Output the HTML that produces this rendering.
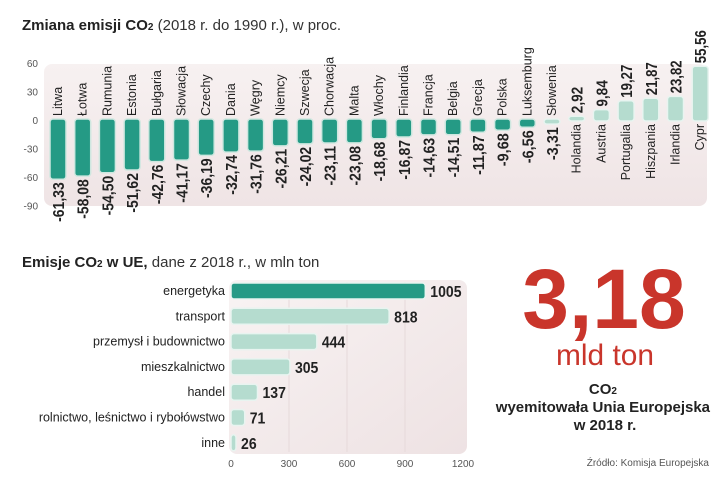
<!DOCTYPE html>
<html><head><meta charset="utf-8"><style>
body{margin:0;background:#fff;width:720px;height:481px;overflow:hidden;font-family:"Liberation Sans",sans-serif}
svg text{font-family:"Liberation Sans",sans-serif}
</style></head><body>
<svg id="chart" width="720" height="481" xmlns="http://www.w3.org/2000/svg">
<defs>
<linearGradient id="bg1" x1="0" y1="0" x2="0" y2="1"><stop offset="0" stop-color="#f7f1f1"/><stop offset="1" stop-color="#efe4e5"/></linearGradient>
<linearGradient id="bg2" x1="0" y1="0" x2="1" y2="1"><stop offset="0" stop-color="#f8f3f3"/><stop offset="1" stop-color="#eee2e3"/></linearGradient>
</defs>
<text x="22" y="30" font-size="15" fill="#222"><tspan font-weight="bold">Zmiana emisji CO</tspan><tspan font-weight="bold" font-size="10">2</tspan><tspan fill="#333"> (2018 r. do 1990 r.), w proc.</tspan></text>
<rect x="44" y="64" width="663" height="142" rx="8" fill="url(#bg1)"/>
<g id="topg"></g>
<text x="22" y="267" font-size="15" fill="#222"><tspan font-weight="bold">Emisje CO</tspan><tspan font-weight="bold" font-size="10">2</tspan><tspan font-weight="bold"> w UE,</tspan><tspan fill="#333"> dane z 2018 r., w mln ton</tspan></text>
<rect x="229" y="280" width="238" height="174" rx="8" fill="url(#bg2)"/>
<g id="botg"></g>
<text x="604" y="328" text-anchor="middle" font-size="84" font-weight="bold" fill="#c9352b">3,18</text>
<text x="605" y="365" text-anchor="middle" font-size="30" fill="#c9352b" textLength="98" lengthAdjust="spacingAndGlyphs">mld ton</text>
<text text-anchor="middle" font-size="15" font-weight="bold" fill="#222">
<tspan x="605" y="394">CO<tspan font-size="10">2</tspan></tspan>
<tspan x="605" y="412">wyemitowała Unia Europejska</tspan>
<tspan x="605" y="430">w 2018 r.</tspan></text>
<text x="709" y="466" text-anchor="end" font-size="10" fill="#555">Źródło: Komisja Europejska</text>
</svg>
<script>
const countries=["Litwa","Łotwa","Rumunia","Estonia","Bułgaria","Słowacja","Czechy","Dania","Węgry","Niemcy","Szwecja","Chorwacja","Malta","Włochy","Finlandia","Francja","Belgia","Grecja","Polska","Luksemburg","Słowenia","Holandia","Austria","Portugalia","Hiszpania","Irlandia","Cypr"];
const changes=[-61.33,-58.08,-54.50,-51.62,-42.76,-41.17,-36.19,-32.74,-31.76,-26.21,-24.02,-23.11,-23.08,-18.68,-16.87,-14.63,-14.51,-11.87,-9.68,-6.56,-3.31,2.92,9.84,19.27,21.87,23.82,55.56];
const yTicks=[60,30,0,-30,-60,-90];
const sectors=["energetyka","transport","przemysł i budownictwo","mieszkalnictwo","handel","rolnictwo, leśnictwo i rybołówstwo","inne"];
const sectorValues=[1005,818,444,305,137,71,26];
const xTicks=[0,300,600,900,1200];
const NS="http://www.w3.org/2000/svg";
function mk(t,a,p,txt){const e=document.createElementNS(NS,t);for(const k in a)e.setAttribute(k,a[k]);if(txt!==undefined)e.textContent=txt;p.appendChild(e);return e;}
const fmt=v=>v.toFixed(2).replace('.',',');
const topG=document.getElementById('topg');
const yS=v=>120-v*0.95;
const xS=i=>58+i*24.7;
yTicks.forEach(t=>{const e=mk('text',{x:38,y:yS(t)+4,'text-anchor':'end','font-size':10,fill:'#555'},topG,t);

});
countries.forEach((c,i)=>{const v=changes[i];const cx=xS(i);const y0=yS(0),y1=yS(v);
const dark=v<-5;
const r=mk('rect',{x:cx-8,y:Math.min(y0,y1)-1,width:16,height:Math.max(Math.abs(y1-y0),2)+2,rx:3,fill:dark?'#259a85':'#b5dccf',stroke:dark?'#cfe7e0':'#e8f4f0','stroke-width':1.5},topG);


let nameEl,valEl;
const s=fmt(v);const tl=s.length*6.6;
if(v<0){
nameEl=mk('text',{transform:`translate(${cx+4},${y0-4}) rotate(-90)`,'font-size':12.5,fill:'#222'},topG,c);
valEl=mk('text',{transform:`translate(${cx+6},${y1+4}) rotate(-90)`,'text-anchor':'end','font-size':16,'font-weight':'bold',fill:'#222',textLength:tl,lengthAdjust:'spacingAndGlyphs'},topG,s);
}else{
nameEl=mk('text',{transform:`translate(${cx+4},${y0+4}) rotate(-90)`,'text-anchor':'end','font-size':12.5,fill:'#222'},topG,c);
valEl=mk('text',{transform:`translate(${cx+6},${y1-4}) rotate(-90)`,'font-size':16,'font-weight':'bold',fill:'#222',textLength:tl,lengthAdjust:'spacingAndGlyphs'},topG,s);
}




});
const botG=document.getElementById('botg');
const bx=v=>231+v*232/1200;
const by=i=>291+i*25.3;
xTicks.forEach(t=>{if(t>0&&t<1200){const g=mk('line',{x1:bx(t),x2:bx(t),y1:282,y2:452,stroke:'#e6d9da','stroke-width':1},botG);

}
const e=mk('text',{x:bx(t),y:467,'text-anchor':'middle','font-size':10,fill:'#555'},botG,t);

});
sectors.forEach((s,i)=>{const v=sectorValues[i];const cy=by(i);
const r=mk('rect',{x:231,y:cy-8,width:Math.max(bx(v)-231,3),height:16,rx:3,fill:i==0?'#259a85':'#b5dccf',stroke:'#e8f4f0','stroke-width':1.5},botG);


const l=mk('text',{x:225,y:cy+4,'text-anchor':'end','font-size':12.5,fill:'#222'},botG,s);


const vs=String(v);
const vl=mk('text',{x:bx(v)+5,y:cy+6,'font-size':16,'font-weight':'bold',fill:'#222',textLength:vs.length*7.8,lengthAdjust:'spacingAndGlyphs'},botG,vs);


});
</script>
</body></html>
